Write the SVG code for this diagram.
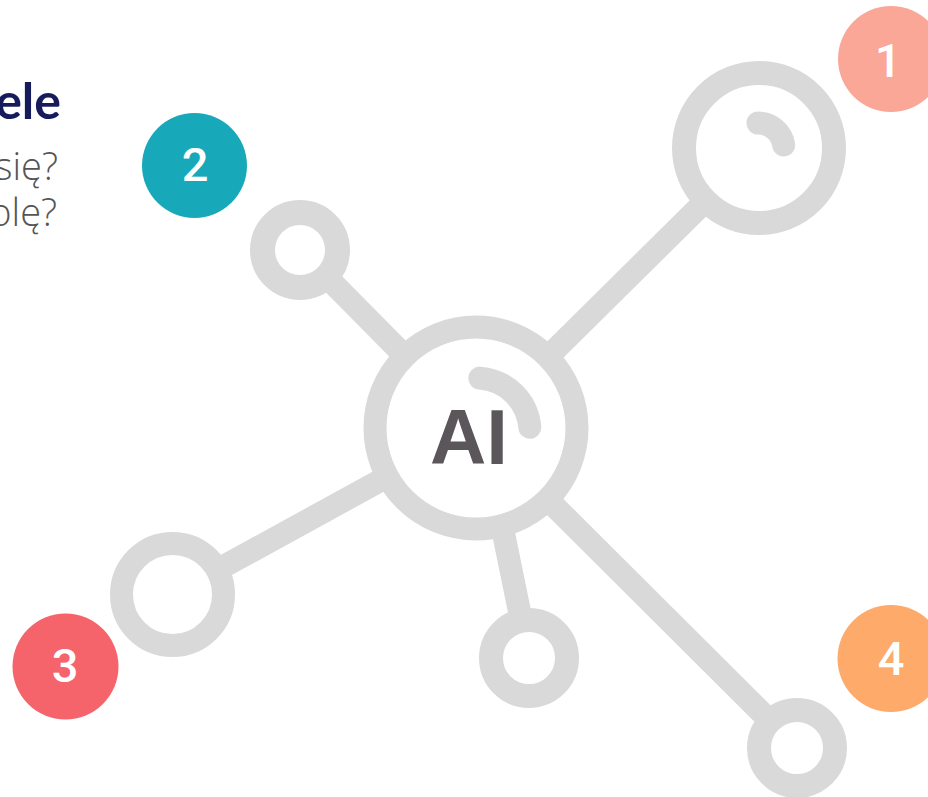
<svg xmlns="http://www.w3.org/2000/svg" width="928" height="797" viewBox="0 0 928 797">
<style>
.ring{fill:#fff;stroke:#d9d9d9;}
.conn{stroke:#d9d9d9;stroke-width:23;fill:none;}
.arc{fill:none;stroke:#d9d9d9;stroke-width:23;stroke-linecap:round;}
.num{font-family:Roboto,"Liberation Sans",sans-serif;font-weight:500;font-size:47px;fill:#fff;text-anchor:middle;}
.q{font-family:"Open Sans","Liberation Sans",sans-serif;font-weight:300;font-size:38px;fill:#555;text-anchor:end;}
</style>
<rect width="928" height="797" fill="#fff"/>
<g id="title">
<text x="61" y="119" font-family="Lato,'Liberation Sans',sans-serif" font-weight="700" font-size="50" fill="#161b5c" text-anchor="end">ele</text>
<text class="q" x="58" y="180">się?</text>
<text class="q" x="57" y="226">olę?</text>
</g>
<g id="connectors">
<line class="conn" x1="476" y1="428" x2="759" y2="148"/>
<line class="conn" x1="476" y1="428" x2="300" y2="250"/>
<line class="conn" x1="476" y1="428" x2="172.5" y2="594.5"/>
<line class="conn" x1="482" y1="428" x2="529" y2="658"/>
<line class="conn" x1="476" y1="428" x2="797" y2="748"/>
</g>
<g id="node-ai">
<circle class="ring" cx="476" cy="428" r="101" stroke-width="23"/>
<path class="arc" d="M 479.8 378.1 A 54 54 0 0 1 529.8 427.3"/>
<text x="469" y="464" font-family="'Liberation Sans',Arial,sans-serif" font-weight="700" font-size="78" fill="#5a5659" text-anchor="middle">AI</text>
</g>
<g id="node-top-right">
<circle class="ring" cx="759" cy="148" r="75" stroke-width="24"/>
<path class="arc" d="M 758 123 A 26 26 0 0 1 783.7 145"/>
</g>
<g id="node-top-left">
<circle class="ring" cx="300" cy="250" r="37.5" stroke-width="25"/>
</g>
<g id="node-bottom-left">
<circle class="ring" cx="172.5" cy="594.5" r="51" stroke-width="23"/>
</g>
<g id="node-bottom-mid">
<circle class="ring" cx="529" cy="658" r="38" stroke-width="24"/>
</g>
<g id="node-bottom-right">
<circle class="ring" cx="797" cy="748" r="38" stroke-width="24"/>
</g>
<g id="badge-1">
<circle cx="891" cy="59" r="53" fill="#faa797"/>
<text class="num" x="888" y="77">1</text>
</g>
<g id="badge-2">
<circle cx="194.5" cy="165.5" r="52.5" fill="#17a9b9"/>
<text class="num" x="195" y="181">2</text>
</g>
<g id="badge-3">
<circle cx="65.5" cy="666.5" r="53" fill="#f5646a"/>
<text class="num" x="65" y="682">3</text>
</g>
<g id="badge-4">
<circle cx="891" cy="658.5" r="53.5" fill="#fdaa6a"/>
<text class="num" x="891" y="675">4</text>
</g>
</svg>
